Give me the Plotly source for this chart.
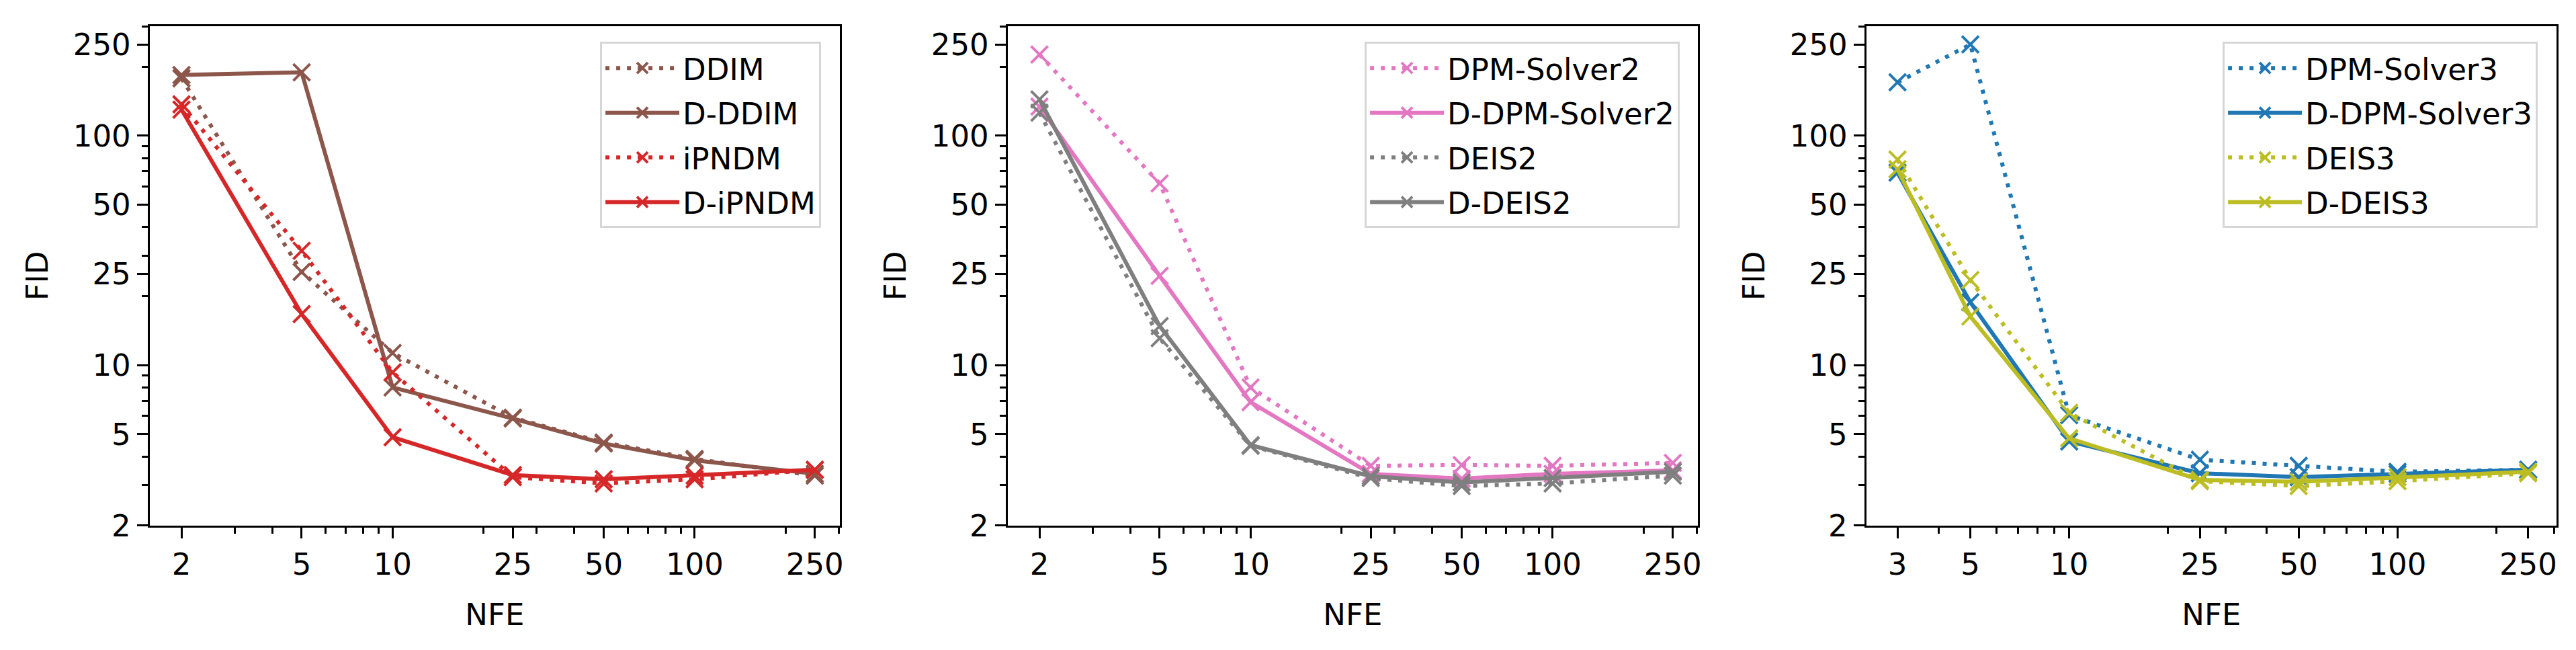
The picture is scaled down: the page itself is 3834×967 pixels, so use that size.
import plotly.graph_objects as go
import math

# ---------------- data ----------------
nfe_a = [2, 5, 10, 25, 50, 100, 250]
nfe_c = [3, 5, 10, 25, 50, 100, 250]

ddim = [178, 25.5, 11.3, 5.9, 4.6, 3.9, 3.3]
d_ddim = [184, 189, 8.0, 5.85, 4.55, 3.85, 3.36]
ipndm = [137, 31.5, 9.3, 3.25, 3.05, 3.18, 3.5]
d_ipndm = [130, 16.7, 4.85, 3.32, 3.18, 3.3, 3.5]

dpm2 = [226, 62, 8.0, 3.64, 3.67, 3.64, 3.75]
d_dpm2 = [134, 24.5, 6.9, 3.36, 3.2, 3.36, 3.48]
deis2 = [126, 13.1, 4.45, 3.22, 2.97, 3.05, 3.3]
d_deis2 = [144, 14.8, 4.48, 3.28, 3.08, 3.22, 3.43]

dpm3 = [171, 250, 6.05, 3.87, 3.64, 3.43, 3.5]
d_dpm3 = [69, 18.8, 4.65, 3.38, 3.25, 3.36, 3.5]
deis3 = [78.7, 23.5, 6.2, 3.12, 2.97, 3.12, 3.38]
d_deis3 = [71.5, 16.3, 4.8, 3.16, 3.1, 3.25, 3.43]

y_ticks = [2, 5, 10, 25, 50, 100, 250]
x_ticks_a = [2, 5, 10, 25, 50, 100, 250]
x_ticks_c = [3, 5, 10, 25, 50, 100, 250]
minor_vals = [3, 4, 6, 7, 8, 9, 20, 30, 40, 60, 70, 80, 90, 200, 300]

BROWN, RED, PINK, GRAY, BLUE, OLIVE = "#8c564b", "#d62728", "#e377c2", "#7f7f7f", "#1f77b4", "#bcbd22"

W, H = 3834, 967
FONT = "DejaVu Sans"
FS = 45

fig = go.Figure()

def add(x, y, name, color, dotted, idx):
    sfx = "" if idx == 1 else str(idx)
    fig.add_trace(go.Scatter(
        x=x, y=y, name=name, mode="lines+markers", legendgroup=name,
        line=dict(color=color, width=6, dash="6px,10px" if dotted else "solid"),
        marker=dict(symbol="x-thin", size=25, color=color, line=dict(width=4, color=color)),
        xaxis="x" + sfx, yaxis="y" + sfx, legend="legend" + sfx,
    ))

add(nfe_a, ddim, "DDIM", BROWN, True, 1)
add(nfe_a, d_ddim, "D-DDIM", BROWN, False, 1)
add(nfe_a, ipndm, "iPNDM", RED, True, 1)
add(nfe_a, d_ipndm, "D-iPNDM", RED, False, 1)

add(nfe_a, dpm2, "DPM-Solver2", PINK, True, 2)
add(nfe_a, d_dpm2, "D-DPM-Solver2", PINK, False, 2)
add(nfe_a, deis2, "DEIS2", GRAY, True, 2)
add(nfe_a, d_deis2, "D-DEIS2", GRAY, False, 2)

add(nfe_c, dpm3, "DPM-Solver3", BLUE, True, 3)
add(nfe_c, d_dpm3, "D-DPM-Solver3", BLUE, False, 3)
add(nfe_c, deis3, "DEIS3", OLIVE, True, 3)
add(nfe_c, d_deis3, "D-DEIS3", OLIVE, False, 3)

panels = [(215, 1244), (1494, 2523), (2774, 3803)]
top_px, bot_px = 32, 796
ydom = [1 - bot_px / H, 1 - top_px / H]

xranges = [
    [math.log10(2) - 0.1055, math.log10(250) + 0.083],
    [math.log10(2) - 0.1055, math.log10(250) + 0.083],
    [math.log10(3) - 0.0952, math.log10(250) + 0.0864],
]
xticks = [x_ticks_a, x_ticks_a, x_ticks_c]

common_axis = dict(
    type="log", showgrid=False, zeroline=False, showline=True, mirror=True,
    linecolor="black", linewidth=3, ticks="outside", ticklen=16, tickwidth=3.3,
    tickcolor="black", tickfont=dict(family=FONT, size=FS, color="black"),
)
minor = dict(tickmode="array", tickvals=minor_vals, ticks="outside", ticklen=9,
             tickwidth=2.5, tickcolor="black", showgrid=False)

layout = dict(
    width=W, height=H, paper_bgcolor="white", plot_bgcolor="white",
    margin=dict(l=0, r=0, t=0, b=0), font=dict(family=FONT, size=FS, color="black"),
)
legend_right = [1216, 2496, 3775]
for i, (l, r) in enumerate(panels):
    sfx = "" if i == 0 else str(i + 1)
    layout["xaxis" + sfx] = dict(
        common_axis, domain=[l / W, r / W], range=xranges[i], anchor="y" + sfx,
        tickmode="array", tickvals=xticks[i], ticktext=[str(v) for v in xticks[i]],
        minor=minor, title=dict(text="NFE", font=dict(family=FONT, size=FS), standoff=34),
    )
    layout["yaxis" + sfx] = dict(
        common_axis, domain=ydom, range=[math.log10(2), math.log10(300)], anchor="x" + sfx,
        tickmode="array", tickvals=y_ticks, ticktext=[str(v) for v in y_ticks],
        minor=minor, title=dict(text="FID", font=dict(family=FONT, size=FS), standoff=24),
    )
    layout["legend" + sfx] = dict(
        x=legend_right[i] / W, y=1 - 56 / H, xanchor="right", yanchor="top",
        bgcolor="white", bordercolor="#d6d6d6", borderwidth=3,
        font=dict(family=FONT, size=FS, color="black"), itemwidth=110,
        tracegroupgap=5,
    )

fig.update_layout(**layout)
fig.write_html("out.html")
